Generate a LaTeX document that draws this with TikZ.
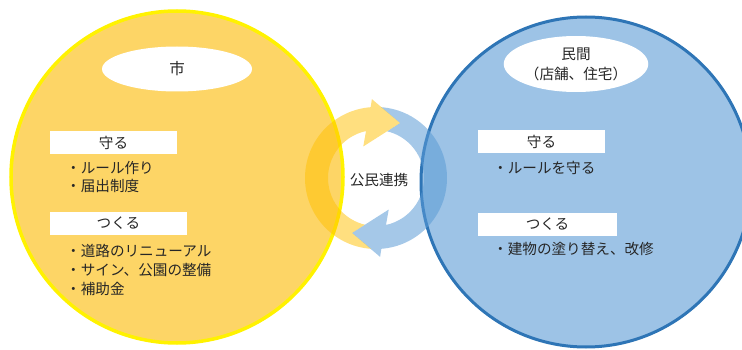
\documentclass[tikz,border=0pt]{standalone}
\usepackage{fontspec}
\setmainfont{Noto Sans CJK JP}
\usetikzlibrary{shapes}
\definecolor{shiFill}{HTML}{FDD566}
\definecolor{shiLine}{HTML}{FFF200}
\definecolor{minFill}{HTML}{9DC3E6}
\definecolor{minLine}{HTML}{2E75B6}
\definecolor{arrY}{HTML}{FFC000}
\definecolor{arrB}{HTML}{5B9BD5}
\definecolor{txt}{HTML}{262626}
\tikzstyle{big}=[circle,minimum size=332,inner sep=0pt]
\tikzstyle{ttl}=[ellipse,fill=white,inner sep=0pt,align=center]
\tikzstyle{hd}=[fill=white,inner sep=0pt,minimum height=23]
\tikzstyle{itm}=[anchor=west,inner sep=0pt]

\begin{document}
\begin{tikzpicture}[x=1pt,y=-1pt,font=\fontsize{14.6}{17}\selectfont,text=txt]
\useasboundingbox (0,0) rectangle (742,350);
\node[big,fill=shiFill,draw=shiLine,line width=3.5pt] (shi) at (177,177) {};
\node[big,fill=minFill,draw=minLine,line width=3pt,minimum size=330] (min) at (586,182) {};
% cycle of the two arrows
\begin{scope}[shift={(376,178)}]
\fill[arrB,opacity=.55] (274.1:71) arc (274.1:445.7:71) -- (447:79) -- (473.6:60) -- (428:34) -- (438:48) arc (438:283.5:48) -- (293.6:60) -- cycle;
\fill[arrY,opacity=.5] (94.1:71) arc (94.1:265.7:71) -- (267:79) -- (293.6:60) -- (248:34) -- (258:48) arc (258:103.5:48) -- (113.6:60) -- cycle;
\end{scope}
\node[] (ren) at (379,180) {公民連携};
% shi
\node[ttl,minimum width=150,minimum height=45,font=\fontsize{15.5}{18}\selectfont] (shiT) at (177,69) {市};
\node[hd,minimum width=127] (shiM) at (113.5,142.5) {守る};
\node[itm] (shiM1) at (66,168) {・ルール作り};
\node[itm] (shiM2) at (66,186) {・届出制度};
\node[hd,minimum width=137] (shiK) at (118.5,223.5) {つくる};
\node[itm] (shiK1) at (66,251) {・道路のリニューアル};
\node[itm] (shiK2) at (66,270) {・サイン、公園の整備};
\node[itm] (shiK3) at (66,288.5) {・補助金};
% min
\node[ttl,minimum width=136,minimum height=56,font=\fontsize{14.6}{20}\selectfont] (minT) at (576,64) {民間\\（店舗、住宅）};
\node[hd,minimum width=127] (minM) at (541.5,141.5) {守る};
\node[itm] (minM1) at (493,168) {・ルールを守る};
\node[hd,minimum width=139] (minK) at (547.5,224.5) {つくる};
\node[itm] (minK1) at (493,249) {・建物の塗り替え、改修};
\end{tikzpicture}
\end{document}
